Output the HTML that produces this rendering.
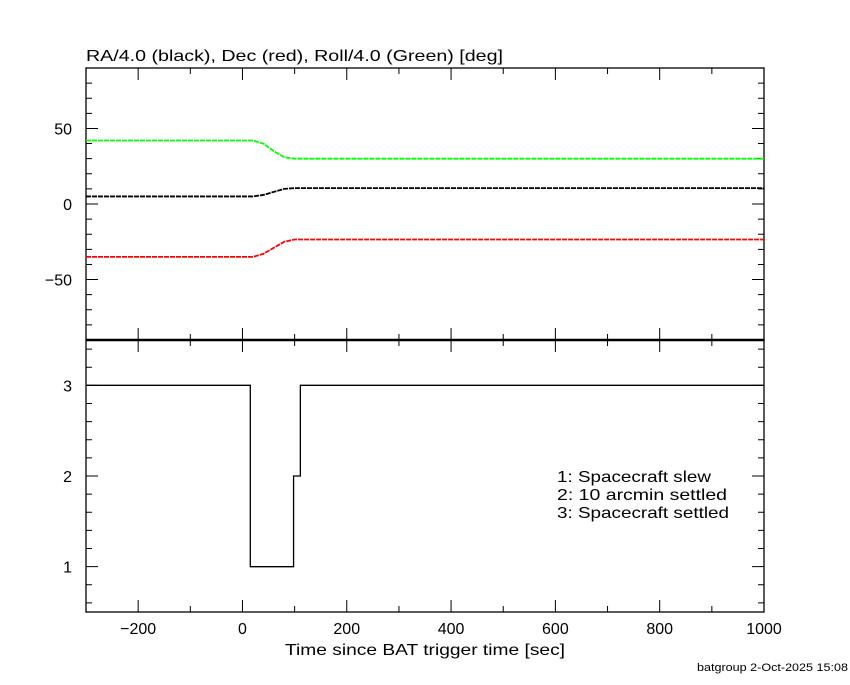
<!DOCTYPE html>
<html><head><meta charset="utf-8"><style>
body{margin:0;background:#fff;}
svg text{font-family:"Liberation Sans",sans-serif;font-size:16px;fill:#000;}
</style></head><body>
<svg id="c" width="850" height="680" xmlns="http://www.w3.org/2000/svg">
<text x="86" y="61" textLength="417" lengthAdjust="spacingAndGlyphs">RA/4.0 (black), Dec (red), Roll/4.0 (Green) [deg]</text>
<text x="285" y="655" textLength="280" lengthAdjust="spacingAndGlyphs">Time since BAT trigger time [sec]</text>
<text x="697" y="671" textLength="151" lengthAdjust="spacingAndGlyphs" style="font-size:11px">batgroup  2-Oct-2025 15:08</text>
<text x="557" y="482" textLength="154" lengthAdjust="spacingAndGlyphs">1: Spacecraft slew</text>
<text x="557" y="500" textLength="170" lengthAdjust="spacingAndGlyphs">2: 10 arcmin settled</text>
<text x="557" y="518" textLength="172" lengthAdjust="spacingAndGlyphs">3: Spacecraft settled</text>
</svg>
<script>
// top panel series (time in sec, angle in deg)
const attTimes=[-300,20,40,60,80,100,1000];
const raVals=[5,5,6,8,10,10.5,10.5];
const decVals=[-35,-35,-33,-29,-25,-23.5,-23.5];
const rollVals=[42,42,40,35,31,30,30];
// bottom panel step series
const stepTimes=[-300,15,15,98,98,111,111,1000];
const stepVals=[3,3,1,1,2,2,3,3];
const xTicks=[-200,0,200,400,600,800,1000];
const topYTicks=[-50,0,50];
const botYTicks=[1,2,3];

const svg=document.getElementById('c');
const NS='http://www.w3.org/2000/svg';
const L=86,R=764,T1=68,B1=340,T2=340,B2=612;
const X=t=>L+(t+300)/1300*(R-L);
const Y1=v=>T1+(90-v)/180*(B1-T1);
const Y2=v=>T2+(3.5-v)/3*(B2-T2);
function mk(tag,a){const e=document.createElementNS(NS,tag);for(const k in a)e.setAttribute(k,a[k]);svg.appendChild(e);return e;}

let f1=mk('rect',{x:L,y:T1,width:R-L,height:B1-T1,fill:'none',stroke:'#000','stroke-width':1.3});


let f2=mk('rect',{x:L,y:T2,width:R-L,height:B2-T2,fill:'none',stroke:'#000','stroke-width':1.3});


let sep=mk('line',{x1:L,x2:R,y1:340,y2:340,stroke:'#000','stroke-width':2.5});



let d='';
for(let t=-300;t<=1000;t+=100){const x=X(t);const len=(t%200===0)?12:6;
 d+=`M${x},${T1}v${len}M${x},${B1}v${-len}M${x},${T2}v${len}M${x},${B2}v${-len}`;}
for(let v=-90;v<=90;v+=10){const y=Y1(v);const len=(v%50===0)?12:6;d+=`M${L},${y}h${len}M${R},${y}h${-len}`;}
for(let i=3;i<=17;i++){const v=i*0.2;const y=Y2(v);const len=(Math.abs(v-Math.round(v))<1e-6)?12:6;d+=`M${L},${y}h${len}M${R},${y}h${-len}`;}
let tk=mk('path',{d:d,stroke:'#000','stroke-width':1,fill:'none'});



xTicks.forEach(t=>{let e=mk('text',{x:X(t),y:634,'text-anchor':'middle'});e.textContent=t<0?'\u2212'+(-t):t;
 
 });
topYTicks.forEach(v=>{let e=mk('text',{x:72,y:Y1(v)+6,'text-anchor':'end'});e.textContent=v<0?'\u2212'+(-v):v;
 
 });
botYTicks.forEach(v=>{let e=mk('text',{x:72,y:Y2(v)+6,'text-anchor':'end'});e.textContent=v;
 
 });

function line(vals,color,name){
 const p=attTimes.map((t,i)=>X(t)+','+Y1(vals[i])).join(' ');
 let e=mk('polyline',{points:p,fill:'none',stroke:color,'stroke-width':1.8,'stroke-dasharray':'5,1'});
 
 
}
line(rollVals,'#00ff00','roll-line');
line(raVals,'#000','ra-line');
line(decVals,'#ff0000','dec-line');

const sp=stepTimes.map((t,i)=>X(t)+','+Y2(stepVals[i])).join(' ');
let st=mk('polyline',{points:sp,fill:'none',stroke:'#000','stroke-width':1.3});


</script>
</body></html>
